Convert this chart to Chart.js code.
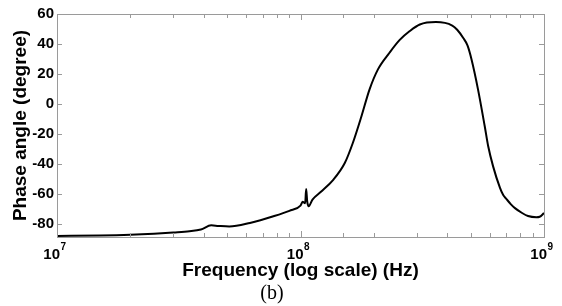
<!DOCTYPE html>
<html>
<head>
<meta charset="utf-8">
<script src="https://cdn.jsdelivr.net/npm/chart.js@4"></script>
<style>
  html, body { margin: 0; padding: 0; background: #fff; }
  #wrap { width: 562px; height: 306px; }
</style>
</head>
<body>
<div id="wrap"><canvas id="phaseChart"></canvas></div>
<script>
// values
const freqHz = [1.0e7, 1.5e7, 2.0e7, 2.5e7, 3.0e7, 3.5e7, 3.9e7, 4.3e7, 4.6e7, 5.1e7,
    6.2e7, 7.8e7, 9.0e7, 1.0e8, 1.02e8, 1.045e8, 1.055e8, 1.065e8, 1.08e8, 1.12e8,
    1.21e8, 1.36e8, 1.52e8, 1.64e8, 1.78e8, 1.92e8, 2.08e8, 2.32e8, 2.55e8, 2.81e8,
    3.09e8, 3.6e8, 4.2e8, 4.4e8, 4.66e8, 4.85e8, 5.04e8, 5.36e8, 5.71e8, 5.9e8,
    6.18e8, 6.59e8, 6.8e8, 7.0e8, 7.3e8, 7.6e8, 8.1e8, 8.6e8, 9.3e8, 9.6e8, 1.0e9];
const phaseDeg = [-88.3, -88.0, -87.5, -86.8, -86.0, -85.2, -84.0, -81.2, -81.6, -82.0,
    -79.6, -75.0, -71.5, -68.0, -65.5, -66.5, -57.0, -65.0, -68.5, -64.0,
    -59.0, -51.0, -39.6, -26.2, -8.3, 9.5, 23.0, 34.1, 42.5, 48.6,
    53.0, 54.6, 52.3, 49.5, 44.0, 39.0, 29.6, 9.5, -15.0, -28.4,
    -41.8, -56.0, -61.0, -63.5, -67.0, -69.7, -72.8, -75.0, -75.8, -75.5, -73.0];
const yTicks = [-80, -60, -40, -20, 0, 20, 40, 60];
const xMajor = [1e7, 1e8, 1e9];
const xExponents = ['7', '8', '9'];

const points = freqHz.map((f, i) => ({ x: f, y: phaseDeg[i] }));

// MATLAB-like box with inward ticks on all four sides, plus 10^n labels
const boxTicks = {
    id: 'boxTicks',
    afterDraw(chart) {
        const c = chart.ctx;
        const a = chart.chartArea;
        const xs = chart.scales.x;
        const ys = chart.scales.y;
        c.save();
        c.strokeStyle = '#9a9a9a';
        c.lineWidth = 1;
        c.strokeRect(a.left + 0.5, a.top + 0.5, a.right - a.left, a.bottom - a.top);
        c.beginPath();
        xs.ticks.forEach(t => {
            const px = Math.round(xs.getPixelForValue(t.value)) + 0.5;
            const len = xMajor.includes(t.value) ? 6 : 4;
            c.moveTo(px, a.bottom);
            c.lineTo(px, a.bottom - len);
            c.moveTo(px, a.top);
            c.lineTo(px, a.top + len);
        });
        ys.ticks.forEach(t => {
            const py = Math.round(ys.getPixelForValue(t.value)) + 0.5;
            c.moveTo(a.left, py);
            c.lineTo(a.left + 5, py);
            c.moveTo(a.right, py);
            c.lineTo(a.right - 5, py);
        });
        c.stroke();

        // tick labels with real superscripts
        c.fillStyle = '#000';
        c.textBaseline = 'alphabetic';
        xMajor.forEach((v, i) => {
            const px = xs.getPixelForValue(v);
            c.font = 'bold 15px "Liberation Sans", Arial, sans-serif';
            c.textAlign = 'right';
            c.fillText('10', px + 3, a.bottom + 22);
            c.font = 'bold 10px "Liberation Sans", Arial, sans-serif';
            c.textAlign = 'left';
            c.fillText(xExponents[i], px + 3.5, a.bottom + 13);
        });
        c.restore();
    }
};

const tickFont = { family: 'Liberation Sans, Arial, sans-serif', size: 15, weight: 'bold' };
const titleFont = { family: 'Liberation Sans, Arial, sans-serif', size: 19, weight: 'bold' };

new Chart(document.getElementById('phaseChart'), {
    type: 'scatter',
    data: {
        datasets: [{
            data: points,
            showLine: true,
            borderColor: '#000',
            borderWidth: 2,
            pointRadius: 0,
            cubicInterpolationMode: 'monotone'
        }]
    },
    options: {
        responsive: true,
        maintainAspectRatio: false,
        animation: false,
        layout: { padding: { top: 14, right: 18, left: 0, bottom: 0 } },
        plugins: {
            legend: { display: false },
            tooltip: { enabled: false },
            title: {
                display: true,
                position: 'bottom',
                text: '(b)',
                color: '#000',
                font: { family: 'Liberation Serif, Times New Roman, serif', size: 20, weight: 'normal' },
                padding: { top: 0, bottom: 0 }
            }
        },
        scales: {
            x: {
                type: 'logarithmic',
                min: 1e7,
                max: 1e9,
                grid: { display: false, drawTicks: false },
                border: { display: false },
                ticks: { display: false, autoSkip: false },
                title: {
                    display: true,
                    text: 'Frequency (log scale) (Hz)',
                    color: '#000',
                    font: titleFont,
                    padding: { top: 0, bottom: 0 }
                },
                afterFit(scale) { scale.height = 45; }
            },
            y: {
                min: -89,
                max: 60,
                grid: { display: false, drawTicks: false },
                border: { display: false },
                afterBuildTicks(scale) { scale.ticks = yTicks.map(v => ({ value: v })); },
                ticks: {
                    color: '#000',
                    font: tickFont,
                    padding: 3
                },
                title: {
                    display: true,
                    text: 'Phase angle (degree)',
                    color: '#000',
                    font: titleFont,
                    padding: { top: 9, bottom: 9 }
                },
                afterFit(scale) { scale.width = 57; }
            }
        }
    },
    plugins: [boxTicks]
});
</script>
</body>
</html>
